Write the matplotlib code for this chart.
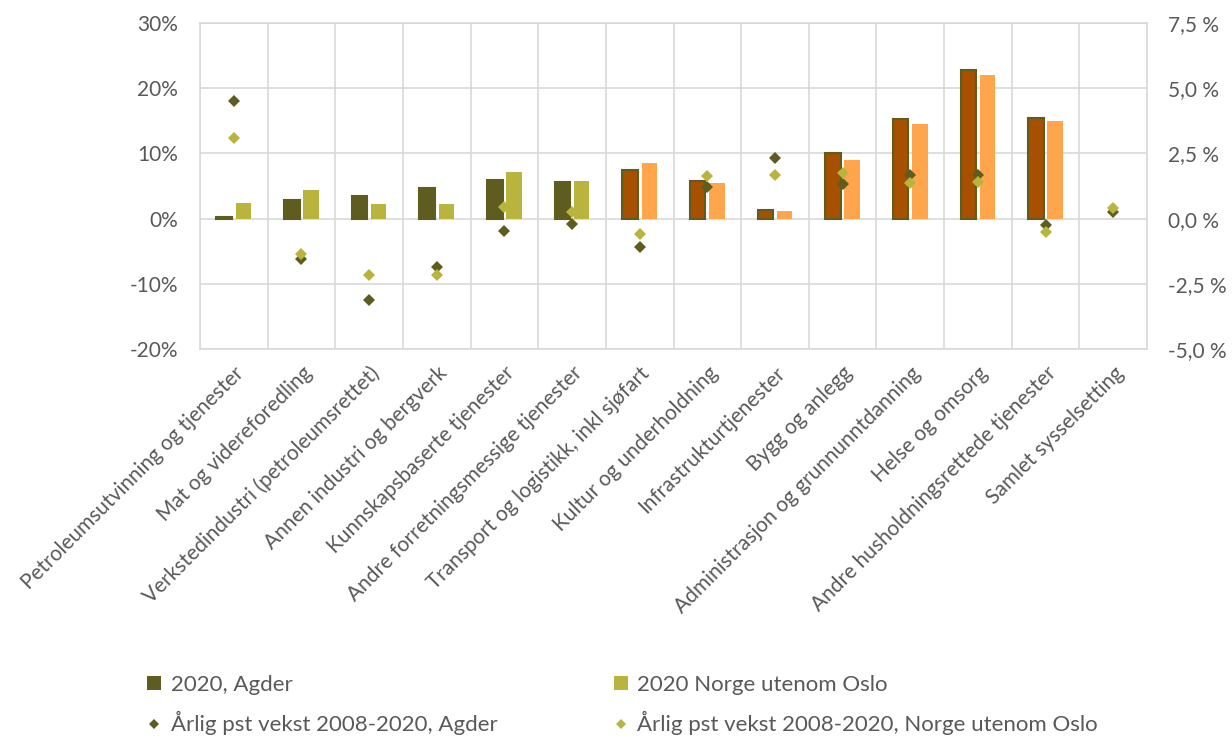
import numpy as np
import matplotlib
matplotlib.use("Agg")
import matplotlib.pyplot as plt
from matplotlib.lines import Line2D
import matplotlib.transforms as mtransforms

# --- data -----------------------------------------------------------------
categories = [
    "Petroleumsutvinning og tjenester",
    "Mat og videreforedling",
    "Verkstedindustri (petroleumsrettet)",
    "Annen industri og bergverk",
    "Kunnskapsbaserte tjenester",
    "Andre forretningsmessige tjenester",
    "Transport og logistikk, inkl sjøfart",
    "Kultur og underholdning",
    "Infrastrukturtjenester",
    "Bygg og anlegg",
    "Administrasjon og grunnunntdanning",
    "Helse og omsorg",
    "Andre husholdningsrettede tjenester",
    "Samlet sysselsetting",
]

# employment share 2020 (percent), left axis; last category has no bars
share_agder = [0.3, 2.8, 3.4, 4.7, 5.9, 5.6, 7.4, 5.7, 1.3, 10.0, 15.2, 22.8, 15.5, np.nan]
share_norge = [2.4, 4.4, 2.3, 2.2, 7.1, 5.8, 8.6, 5.5, 1.2, 9.0, 14.5, 22.0, 14.9, np.nan]

# annual growth 2008-2020 (percent), right axis
growth_agder = [4.5, -1.54, -3.14, -1.86, -0.47, -0.20, -1.08, 1.21, 2.33, 1.31, 1.67, 1.67, -0.26, 0.24]
growth_norge = [3.09, -1.35, -2.18, -2.18, 0.45, 0.27, -0.59, 1.63, 1.67, 1.73, 1.35, 1.40, -0.53, 0.41]

left_ticks = [-20, -10, 0, 10, 20, 30]
right_ticks = [-5.0, -2.5, 0.0, 2.5, 5.0, 7.5]

# --- style ----------------------------------------------------------------
OLIVE_DARK = "#5E5C1E"
OLIVE_LIGHT = "#B8B43E"
BROWN = "#A65000"
ORANGE = "#FFA64C"
GRID = "#D9D9D9"
TEXT = "#595959"

plt.rcParams["font.family"] = ["Lato", "DejaVu Sans"]
FS = 15
FS_LEG = 16

fig = plt.figure(figsize=(12.32, 7.40), dpi=100)
ax = fig.add_axes([200 / 1232, 1 - 349 / 740, 947 / 1232, 326 / 740])

x = np.arange(len(categories))
n_olive = 6  # the first six industries use olive tones, the rest orange tones
colors_a = [OLIVE_DARK if i < n_olive else BROWN for i in range(len(categories))]
colors_n = [OLIVE_LIGHT if i < n_olive else ORANGE for i in range(len(categories))]

share_agder = np.array(share_agder)
share_norge = np.array(share_norge)
has_a = ~np.isnan(share_agder)
has_n = ~np.isnan(share_norge)

off = 0.142
w = 0.23
ax.bar(x[has_a] - off, share_agder[has_a], width=w,
       color=[c for c, h in zip(colors_a, has_a) if h],
       edgecolor=OLIVE_DARK, linewidth=1.5, zorder=3)
ax.bar(x[has_n] + off, share_norge[has_n], width=w,
       color=[c for c, h in zip(colors_n, has_n) if h],
       linewidth=0, zorder=3)

ax.set_xlim(-0.5, len(categories) - 0.5)
ax.set_ylim(-20, 30)
ax.set_yticks(left_ticks)
ax.set_yticklabels([f"{t}%" for t in left_ticks])

# vertical grid at category boundaries, horizontal grid at major ticks
ax.set_xticks(x)
ax.set_xticks(np.arange(-0.5, len(categories), 1.0), minor=True)
ax.grid(True, which="minor", axis="x", color=GRID, linewidth=1.2, zorder=0)
ax.grid(True, which="major", axis="y", color=GRID, linewidth=1.2, zorder=0)
ax.grid(False, which="major", axis="x")
for s in ax.spines.values():
    s.set_color(GRID)
    s.set_linewidth(1.2)

ax.tick_params(axis="both", which="both", length=0, colors=TEXT, labelsize=FS)
ax.tick_params(axis="y", pad=16)
ax.tick_params(axis="x", pad=10)
ax.set_xticklabels(categories, rotation=45, ha="right", va="top",
                   rotation_mode="anchor")
shift = mtransforms.ScaledTranslation(0, 0, fig.dpi_scale_trans)
for lbl in ax.get_xticklabels():
    lbl.set_transform(lbl.get_transform() + shift)

# growth rates on the secondary axis
ax2 = ax.twinx()
ax2.set_ylim(-5, 7.5)
ax2.set_yticks(right_ticks)
ax2.set_yticklabels([f"{t:.1f} %".replace(".", ",") for t in right_ticks])
ax2.tick_params(axis="y", length=0, colors=TEXT, labelsize=FS, pad=15)
for s in ax2.spines.values():
    s.set_visible(False)

ms = 6.6
ax2.plot(x, growth_agder, linestyle="none", marker="D", markersize=ms,
         color=OLIVE_DARK, markeredgewidth=0, zorder=4)
ax2.plot(x, growth_norge, linestyle="none", marker="D", markersize=ms,
         color=OLIVE_LIGHT, markeredgewidth=0, zorder=5)

# legend
handles = [
    Line2D([], [], linestyle="none", marker="s", markersize=10.5,
           color=OLIVE_DARK, markeredgewidth=0),
    Line2D([], [], linestyle="none", marker="D", markersize=5.5,
           color=OLIVE_DARK, markeredgewidth=0),
    Line2D([], [], linestyle="none", marker="s", markersize=10.5,
           color=OLIVE_LIGHT, markeredgewidth=0),
    Line2D([], [], linestyle="none", marker="D", markersize=5.5,
           color=OLIVE_LIGHT, markeredgewidth=0),
]
labels = [
    "2020, Agder",
    "Årlig pst vekst 2008-2020, Agder",
    "2020 Norge utenom Oslo",
    "Årlig pst vekst 2008-2020, Norge utenom Oslo",
]
leg = fig.legend(handles, labels, ncol=2, loc="upper left",
                 bbox_to_anchor=(145 / 1232, 1 - 675 / 740),
                 frameon=False, fontsize=FS_LEG, handlelength=0.8,
                 handletextpad=0.35, columnspacing=5.15, labelspacing=0.73,
                 borderaxespad=0, borderpad=0)
for t in leg.get_texts():
    t.set_color(TEXT)

fig.savefig("out.png", dpi=100, facecolor="white")
